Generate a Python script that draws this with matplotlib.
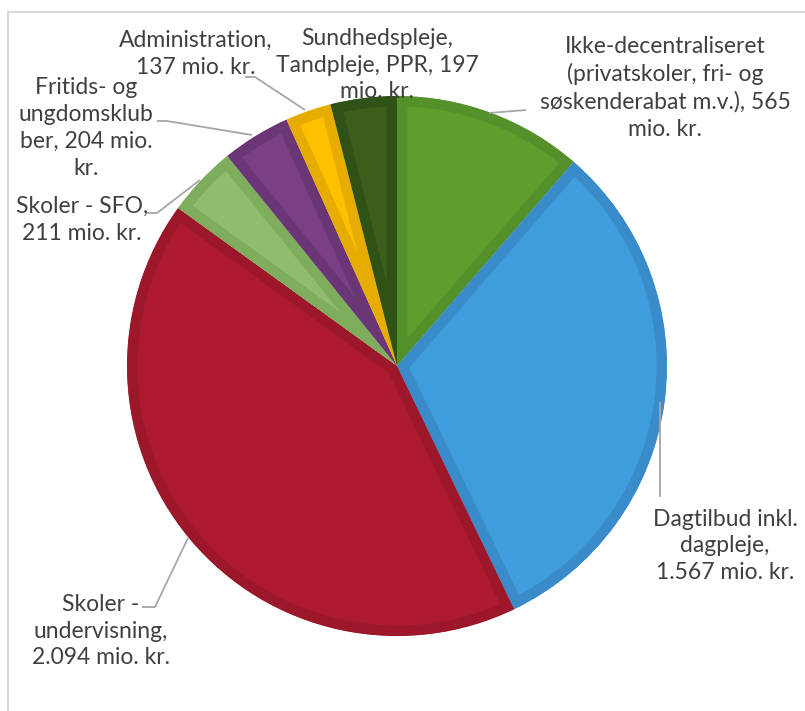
import matplotlib
matplotlib.use('Agg')
import matplotlib.pyplot as plt

plt.rcParams['font.family'] = ['Lato', 'DejaVu Sans']

# budget 2020, mio. kr.
categories = ['Ikke-decentraliseret', 'Dagtilbud', 'Skoler - undervisning',
              'Skoler - SFO', 'Fritids- og ungdomsklubber', 'Administration',
              'Sundhedspleje, Tandpleje, PPR']
values = [565, 1567, 2094, 211, 204, 137, 197]
labels = ['Ikke-decentraliseret\n(privatskoler, fri- og\nsøskenderabat m.v.), 565\nmio. kr.',
          'Dagtilbud inkl.\ndagpleje,\n1.567 mio. kr.',
          'Skoler -\nundervisning,\n2.094 mio. kr.',
          'Skoler - SFO,\n211 mio. kr.',
          'Fritids- og\nungdomsklub\nber, 204 mio.\nkr.',
          'Administration,\n137 mio. kr.',
          'Sundhedspleje,\nTandpleje, PPR, 197\nmio. kr.']

fills = ['#5f9e2d', '#3e9dda', '#ad1a2f', '#8fbd6b', '#7b3f86', '#ffc000', '#3a5f1c']
edges = ['#55912a', '#3a8bc9', '#9c1729', '#7fad5e', '#6a3676', '#e6ad00', '#2f5217']

W, H = 805, 711
fig = plt.figure(figsize=(W / 100, H / 100), dpi=100)
ax = fig.add_axes([0, 0, 1, 1])

def Y(y):
    return H - y

wedges, _ = ax.pie(values, colors=fills, startangle=90, counterclock=False,
                   center=(397, Y(366)), radius=270, wedgeprops=dict(linewidth=0))
# darker inner border, like the excel style
for w, ec in zip(wedges, edges):
    w.set_edgecolor(ec)
    w.set_linewidth(15)
    w.set_joinstyle('miter')
    w.set_clip_on(True)
    w.set_clip_path(w)

# label positions (pixel centres) and leader lines
label_pos = [(665, 88), (725, 546), (101, 631), (82, 220), (86, 128), (196, 54), (377, 65)]
leaders = [[(489, 113), (526, 110)],
           [(660, 402), (660, 497)],
           [(142, 607), (155, 607), (188, 538)],
           [(147, 213), (157, 213), (200, 180)],
           [(157, 121), (167, 121), (252, 135)],
           [(245, 77), (255, 77), (305, 110)],
           None]

for lab, (x, y), ld in zip(labels, label_pos, leaders):
    if ld:
        ax.plot([p[0] for p in ld], [Y(p[1]) for p in ld], color='#a6a6a6', lw=1.3,
                solid_capstyle='butt')
    ax.text(x, Y(y), lab, ha='center', va='center', multialignment='center',
            fontsize=16.5, color='#404040', linespacing=1.35)

# chart frame (only top and left edges are inside the picture)
ax.plot([8, W], [Y(12), Y(12)], color='#d9d9d9', lw=1.5)
ax.plot([8, 8], [Y(12), 0], color='#d9d9d9', lw=1.5)

ax.set_xlim(0, W)
ax.set_ylim(0, H)
ax.set_aspect('equal')
ax.axis('off')

fig.savefig('out.png', dpi=100)
